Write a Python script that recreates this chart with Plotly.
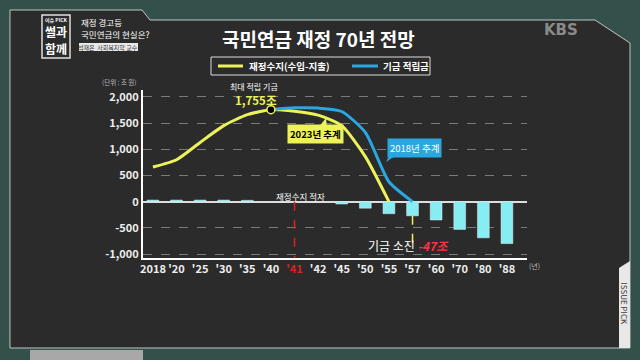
import plotly.graph_objects as go

categories = ["2018", "'20", "'25", "'30", "'35", "'40", "'41", "'42", "'45", "'50", "'55", "'57", "'60", "'70", "'80", "'88"]
balance_bars = [30, 30, 30, 30, 25, None, None, None, -45, -125, -230, -270, -350, -530, -690, -800]
fund_2023_x = ["2018", "'20", "'25", "'30", "'35", "'40", "'41", "'42", "'45", "'50", "'55"]
fund_2023 = [660, 800, 1130, 1450, 1660, 1755, 1725, 1650, 1450, 860, 0]
fund_2018_x = ["'40", "'41", "'42", "'45", "'50", "'55", "'57"]
fund_2018 = [1755, 1790, 1785, 1720, 1320, 380, 0]
ytick_vals = [-1000, -500, 0, 500, 1000, 1500, 2000]
ytick_text = ["-1,000", "-500", "0", "500", "1,000", "1,500", "2,000"]
legend_names = ["재정수지(수입-지출)", "기금 적립금"]
peak_value = 1755
exhaust_cat = "'57"
deficit_cat = "'41"

FONT = "Noto Sans CJK KR"
YEL = "#eef25a"
BLU = "#2aa6e0"
L, R, T, B = 143, 527, 90, 258
def px(x):
    return (x - L) / (R - L)
def py(y):
    return (B - y) / (B - T)

fig = go.Figure()
fig.add_trace(go.Bar(x=categories, y=balance_bars, marker_color="#86eef2", width=0.5,
                     showlegend=False, hoverinfo="skip"))
fig.add_trace(go.Scatter(x=fund_2023_x, y=fund_2023, mode="lines", name=legend_names[0],
                         line=dict(color=YEL, width=3, shape="spline", smoothing=0.6), showlegend=False))
fig.add_trace(go.Scatter(x=fund_2018_x, y=fund_2018, mode="lines", name=legend_names[1],
                         line=dict(color=BLU, width=3, shape="spline", smoothing=0.6), showlegend=False))
fig.add_trace(go.Scatter(x=[fund_2023_x[fund_2023.index(peak_value)]], y=[peak_value], mode="markers",
                         marker=dict(color="black", size=8, line=dict(color=YEL, width=1.5)),
                         showlegend=False, hoverinfo="skip"))

ticktext = [f"<span style='color:#e02020'>{c}</span>" if c == deficit_cat else c for c in categories]

shapes = []
def rect(x0, y0, x1, y1, **kw):
    d = dict(type="rect", xref="paper", yref="paper", x0=px(x0), x1=px(x1), y0=py(y1), y1=py(y0))
    d.update(kw)
    shapes.append(d)
def poly(pts, **kw):
    path = "M " + " L ".join(f"{px(x):.4f},{py(y):.4f}" for x, y in pts) + " Z"
    d = dict(type="path", xref="paper", yref="paper", path=path)
    d.update(kw)
    shapes.append(d)
def seg(x0, y0, x1, y1, **kw):
    d = dict(type="line", xref="paper", yref="paper", x0=px(x0), x1=px(x1), y0=py(y0), y1=py(y1))
    d.update(kw)
    shapes.append(d)

# dark board panel
poly([(10, 10), (142, 10), (150, 20), (595, 20), (630, 43), (630, 348), (10, 348)],
     fillcolor="#2b2b2b", line=dict(color="#bfc5c2", width=1), layer="below")
# ISSUE PICK tab
poly([(619, 268), (630, 261), (630, 348), (619, 348)], fillcolor="#e8e8e8", line=dict(width=0), layer="below")
rect(30, 350, 143, 360, fillcolor="#a8a8a8", line=dict(width=0), layer="below")
# logo box
rect(42, 15, 70, 58, fillcolor="rgba(0,0,0,0)", line=dict(color="#e0e0e0", width=1.5))
rect(79, 43, 138, 51, fillcolor="#e8e8e8", line=dict(width=0))
# custom legend
rect(211, 57, 430, 75, fillcolor="rgba(0,0,0,0)", line=dict(color="#dddddd", width=1))
seg(218, 66, 243, 66, line=dict(color=YEL, width=3))
seg(352, 66, 378, 66, line=dict(color=BLU, width=3))
# callout pointers
poly([(318, 128), (326, 118), (327, 128)], fillcolor=YEL, line=dict(width=0))
poly([(390, 154), (386, 162), (398, 154)], fillcolor=BLU, line=dict(width=0))

# deficit / exhaustion marker lines
di = categories.index(deficit_cat)
shapes.append(dict(type="line", xref="x", yref="y", x0=di, x1=di, y0=0, y1=-1075,
                   line=dict(color="#e02020", width=1.5, dash="dash")))
ei = categories.index(exhaust_cat)
shapes.append(dict(type="line", xref="x", yref="y", x0=ei, x1=ei, y0=balance_bars[ei], y1=-790,
                   line=dict(color=YEL, width=1.5, dash="dash")))

ann = []
def a(x, y, text, size=10, color="white", family=FONT, **kw):
    d = dict(xref="paper", yref="paper", x=px(x), y=py(y), text=text, showarrow=False,
             xanchor="center", yanchor="middle",
             font=dict(family=family, size=size, color=color))
    d.update(kw)
    ann.append(d)

a(318, 38, "<b>국민연금 재정 70년 전망</b>", size=19)
a(247, 66, "<b>" + legend_names[0] + "</b>", size=9.5, xanchor="left")
a(381, 66, "<b>" + legend_names[1] + "</b>", size=9.5, xanchor="left")
a(139, 82, "(단위 : 조 원)", size=6.5, color="#bbbbbb", xanchor="right")
a(527, 266, "(년)", size=7, color="#bbbbbb", xanchor="left")
a(254, 86.5, "최대 적립 기금", size=8)
a(256, 100, "<b>1,755조</b>", size=11.5, color=YEL)
a(300, 196, "재정수지 적자", size=8.5)
a(408, 245, "기금 소진 <b><i><span style='color:#ff3040'>-47조</span></i></b>", size=12)
a(315, 134, "<b>2023년 추계</b>", size=9.5, color="black", bgcolor=YEL, borderpad=2)
a(414, 148, "2018년 추계", size=9.5, color="white", bgcolor=BLU, borderpad=2)
# header texts
a(56, 20, "<b>이슈 PICK</b>", size=5)
a(56, 32, "<b>썰과</b>", size=12)
a(56, 48, "<b>함께</b>", size=12)
a(79, 22, "재정 경고등", size=8.5, xanchor="left")
a(79, 34, "국민연금의 현실은?", size=8.5, xanchor="left")
a(108, 47, "석재은  사회복지학 교수", size=6, color="#333333")
a(561, 30, "<b>KBS</b>", size=15, color="#8a8a8a", family="DejaVu Sans")
a(624.5, 304, "ISSUE PICK", size=8, color="#333333", textangle=90)

fig.update_layout(
    width=640, height=360,
    margin=dict(l=L, r=640 - R, t=T, b=360 - B),
    paper_bgcolor="#33504a", plot_bgcolor="rgba(0,0,0,0)",
    font=dict(family=FONT, color="white"),
    shapes=shapes, annotations=ann, showlegend=False,
    xaxis=dict(type="category", categoryorder="array", categoryarray=categories,
               range=[-0.42, 15.85], tickmode="array", tickvals=categories, ticktext=ticktext,
               tickangle=0,
               tickfont=dict(family=FONT, size=11, color="#eeeeee", weight="bold"),
               showgrid=False, showline=True, linecolor="white", linewidth=2, ticks=""),
    yaxis=dict(range=[-1075, 2130], tickmode="array", tickvals=ytick_vals, ticktext=ytick_text,
               tickfont=dict(family=FONT, size=11, color="#eeeeee", weight="bold"),
               showgrid=True, gridcolor="#7a7a7a", griddash="dash", gridwidth=1,
               zeroline=True, zerolinecolor="#dddddd", zerolinewidth=1.5,
               showline=True, linecolor="white", linewidth=2, ticks=""),
)
fig.write_html("out.html")
